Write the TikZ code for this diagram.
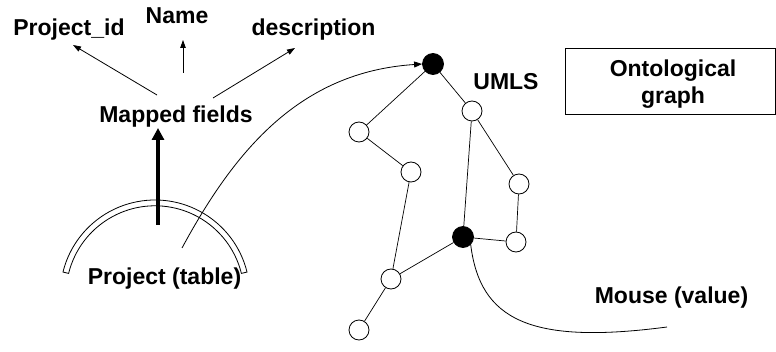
\documentclass[tikz,border=0pt]{standalone}
\usepackage{fontspec}
\setmainfont{Liberation Sans}
\usetikzlibrary{arrows.meta,calc}
\begin{document}
\begin{tikzpicture}[x=1pt,y=1pt,
  lbl/.style={font=\fontsize{23}{27}\selectfont\bfseries, inner sep=0pt, anchor=base},
  onode/.style={circle, draw, line width=0.8pt, fill=white, minimum size=20pt, inner sep=0pt},
  bnode/.style={circle, draw, line width=0.8pt, fill=black, minimum size=21pt, inner sep=0pt},
  gedge/.style={line width=0.7pt},
  thinarr/.style={line width=0.8pt, -{Triangle[length=8pt,width=5.5pt]}},
  thickarr/.style={line width=4pt, -{Triangle[length=12pt,width=12pt]}},
  curv/.style={line width=0.8pt},
  boxstyle/.style={draw, line width=0.8pt, minimum width=210pt, minimum height=66pt, inner sep=0pt}
]
\useasboundingbox (0,0) rectangle (776,351);

% labels
\node[lbl] (pid) at (69,315) {Project\_id};
\node[lbl] (nm) at (177,327) {Name};
\node[lbl] (desc) at (313.5,315) {description};
\node[lbl] (mf) at (176,228) {Mapped fields};
\node[lbl] (pt) at (164.5,67) {Project (table)};
\node[lbl] (umls) at (506,261) {UMLS};
\node[lbl] (mouse) at (671.5,48) {Mouse (value)};
\node[boxstyle] (og) at (670,270) {};
\node[lbl] (og1) at (673,274) {Ontological};
\node[lbl] (og2) at (673,247) {graph};

% arrows from mapped fields
\coordinate (mfl) at (157,256);
\coordinate (mfm) at (183,278);
\coordinate (mfr) at (213,253);
\coordinate (pide) at (73,306);
\coordinate (nme) at (183,311);
\coordinate (desce) at (295,303);
\draw[thinarr] (mfl) -- (pide);
\draw[thinarr] (mfm) -- (nme);
\draw[thinarr] (mfr) -- (desce);

% table arc
\coordinate (ac) at (155,56.2);
\draw[line width=0.8pt, fill=white] ($(ac)+(13.9:94.8)$) arc[start angle=13.9, end angle=166.1, radius=94.8]
  -- ($(ac)+(166.1:89)$) arc[start angle=166.1, end angle=13.9, radius=89] -- cycle;

% thick arrow
\coordinate (tb) at (158,126);
\coordinate (tt) at (158,223);
\draw[thickarr] (tb) -- (tt);

% graph nodes
\node[bnode] (A) at (433,287) {};
\node[onode] (B) at (472,240) {};
\node[onode] (C) at (359,219) {};
\node[onode] (D) at (411,179) {};
\node[onode] (E) at (519,167) {};
\node[bnode] (F) at (463,114) {};
\node[onode] (G) at (516,109) {};
\node[onode] (H) at (391,72) {};
\node[onode] (I) at (359,21) {};

\draw[gedge] (A) -- (C);
\draw[gedge] (A) -- (B);
\draw[gedge] (C) -- (D);
\draw[gedge] (D) -- (H);
\draw[gedge] (B) -- (F);
\draw[gedge] (B) -- (E);
\draw[gedge] (E) -- (G);
\draw[gedge] (G) -- (F);
\draw[gedge] (F) -- (H);
\draw[gedge] (H) -- (I);

% curve from project to UMLS root
\coordinate (ps) at (182,103);
\draw[curv, -{Triangle[length=8pt,width=6pt]}] (ps) .. controls (235,201) and (300,279) .. (A.west);

% curve from F to mouse
\coordinate (me) at (667,24);
\draw[curv] (F.south east) .. controls (480,31) and (530,6) .. (me);
\end{tikzpicture}
\end{document}
